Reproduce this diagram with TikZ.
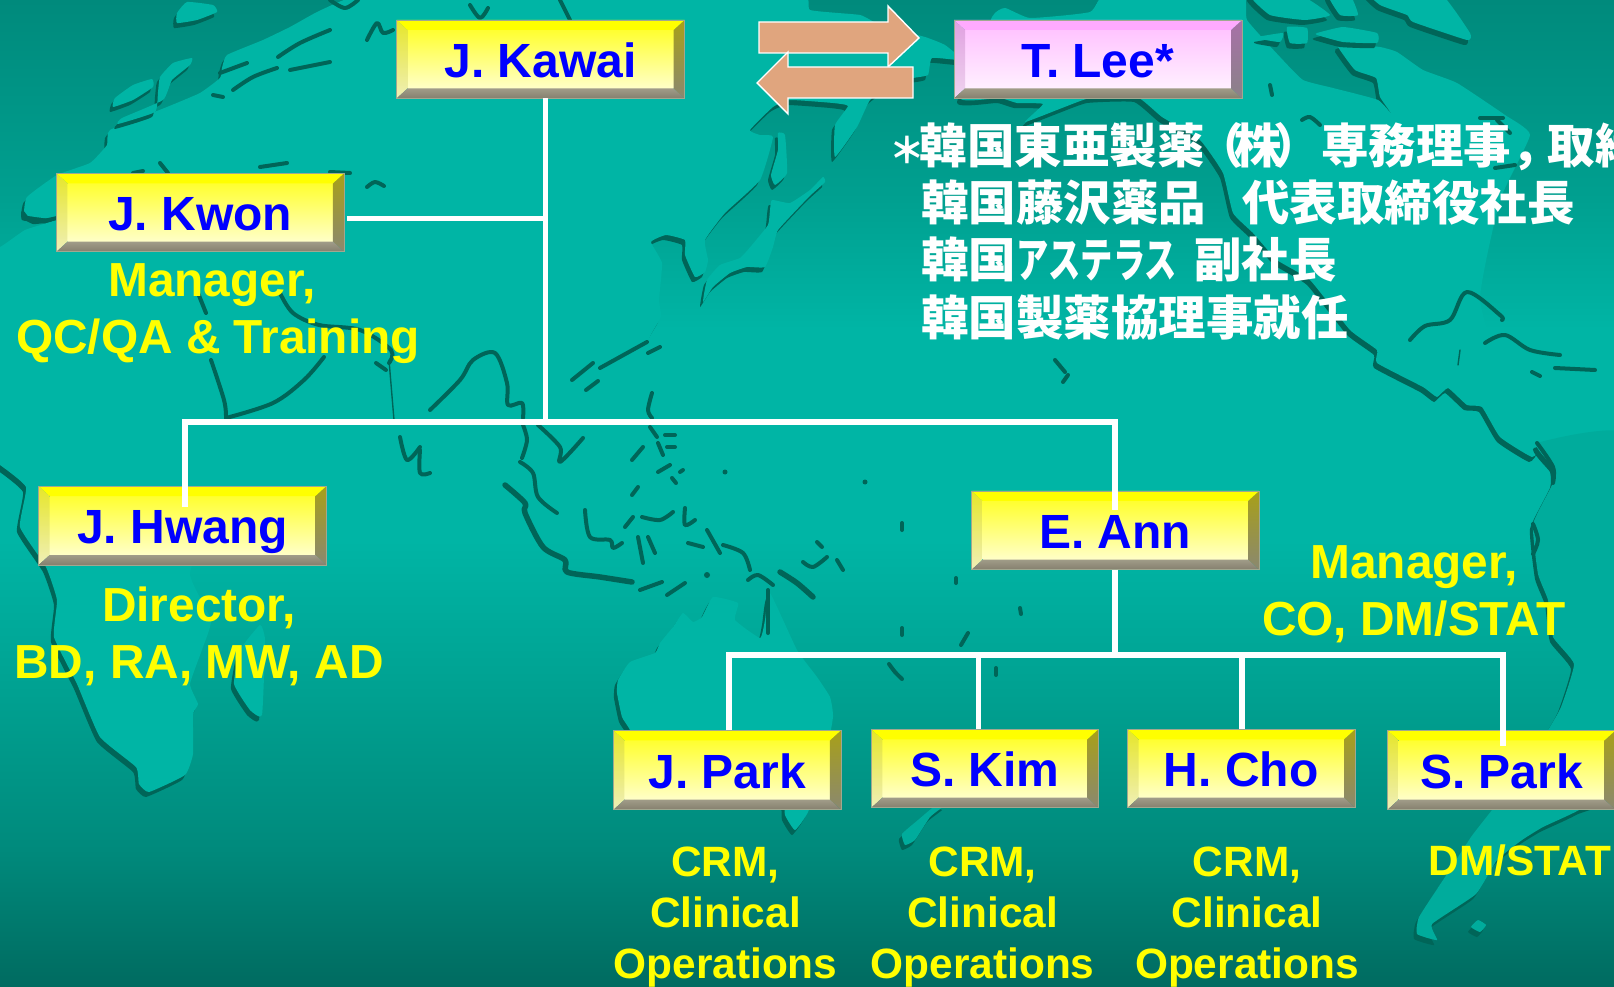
\documentclass[tikz,border=0pt]{standalone}
\usepackage{fontspec}
\usepackage{graphicx}
\setmainfont{Liberation Sans}
\newfontfamily\jpfont{Noto Sans CJK JP}
\definecolor{landcol}{HTML}{00B5A5}
\definecolor{landlow}{HTML}{00AC9C}
\definecolor{shadecol}{HTML}{006558}
\definecolor{oc0}{HTML}{008A7C}
\definecolor{oc1}{HTML}{00A090}
\definecolor{oc2}{HTML}{00B5A5}
\definecolor{oc3}{HTML}{00A090}
\definecolor{oc4}{HTML}{008A7C}
\definecolor{oc5}{HTML}{006B60}
\definecolor{arrowcol}{HTML}{E0A57E}
\definecolor{namecol}{HTML}{0000FF}
\definecolor{rolecol}{HTML}{FFFF00}
\definecolor{bevA}{HTML}{A09C88}
\definecolor{bevB}{HTML}{857F6E}
\definecolor{yTop}{HTML}{FFFF00}
\definecolor{yInA}{HTML}{FFFF30}
\definecolor{yInB}{HTML}{FFFFC8}
\definecolor{yLeA}{HTML}{E6E628}
\definecolor{yLeB}{HTML}{EFEFB8}
\definecolor{yRiA}{HTML}{A8A018}
\definecolor{yRiB}{HTML}{8A8870}
\definecolor{pTop}{HTML}{FFAAFF}
\definecolor{pInA}{HTML}{FFC4FF}
\definecolor{pInB}{HTML}{FFF0FF}
\definecolor{pLeA}{HTML}{E0A0E0}
\definecolor{pLeB}{HTML}{EFD4EF}
\definecolor{pRiA}{HTML}{A870A8}
\definecolor{pRiB}{HTML}{8A8288}
\definecolor{boxedge}{HTML}{A0A890}
\newcommand{\landmass}[2][landcol]{%
  \fill[shadecol,shift={(-3,5)}] plot[smooth cycle,tension=.25] coordinates {#2};
  \fill[#1] plot[smooth cycle,tension=.25] coordinates {#2};}
\newcommand{\cst}[1]{\draw[coast] plot[smooth,tension=.55] coordinates {#1};}
\newcommand{\dotisle}[2]{\fill[shadecol] #1 circle (#2);}
\tikzset{
  x=1pt,y=-1pt,
  coast/.style={draw=shadecol,line width=4pt,line cap=round,line join=round},
  wire/.style={draw=white,line width=5.6pt,line join=miter},
  blockarrow/.style={fill=arrowcol,draw=white,line width=1.4pt,line join=miter},
  bevelbox/.style n args={7}{rectangle,inner sep=0pt,outer sep=0pt,
    draw=boxedge,line width=.7pt,text height=36pt,text depth=0pt,
    text=namecol,font=\bfseries\fontsize{48}{57}\selectfont,
    path picture={
      \coordinate (oNW) at (path picture bounding box.north west);
      \coordinate (oNE) at (path picture bounding box.north east);
      \coordinate (oSW) at (path picture bounding box.south west);
      \coordinate (oSE) at (path picture bounding box.south east);
      \coordinate (iNW) at ([shift={(11,10)}]oNW);
      \coordinate (iNE) at ([shift={(-11,10)}]oNE);
      \coordinate (iSW) at ([shift={(11,-10)}]oSW);
      \coordinate (iSE) at ([shift={(-11,-10)}]oSE);
      \shade[top color=#2,bottom color=#3] (iNW) rectangle (iSE);
      \shade[top color=#4,bottom color=#5] (oNW)--(iNW)--(iSW)--(oSW)--cycle;
      \shade[top color=#6,bottom color=#7] (oNE)--(iNE)--(iSE)--(oSE)--cycle;
      \fill[#1] (oNW)--(oNE)--(iNE)--(iNW)--cycle;
      \shade[top color=bevA,bottom color=bevB] (oSW)--(oSE)--(iSE)--(iSW)--cycle;
    }},
  yellowbox/.style={bevelbox={yTop}{yInA}{yInB}{yLeA}{yLeB}{yRiA}{yRiB}},
  pinkbox/.style={bevelbox={pTop}{pInA}{pInB}{pLeA}{pLeB}{pRiA}{pRiB}},
  rolelabel/.style={text=rolecol,font=\bfseries\fontsize{47.8}{57}\selectfont,align=center,inner sep=0pt,anchor=base},
  rolesmall/.style={text=rolecol,font=\bfseries\fontsize{42.4}{51}\selectfont,align=center,inner sep=0pt,anchor=base},
  jpline/.style={text=white,font=\jpfont\bfseries\fontsize{47.5}{57}\selectfont,inner sep=0pt,anchor=base west},
}
\begin{document}
\begin{tikzpicture}
\useasboundingbox (0,0) rectangle (1614,987);
% ocean
\shade[top color=oc0,bottom color=oc1] (0,0) rectangle (1614,200);
\shade[top color=oc1,bottom color=oc2] (0,199.5) rectangle (1614,330);
\fill[oc2] (0,329.5) rectangle (1614,540);
\shade[top color=oc2,bottom color=oc3] (0,539.5) rectangle (1614,700);
\shade[top color=oc3,bottom color=oc4] (0,699.5) rectangle (1614,850);
\shade[top color=oc4,bottom color=oc5] (0,849.5) rectangle (1614,987);
% Eurasia (its lower edge merges with the ocean, so its shadow stops short of it)
\begin{scope}
\clip (-30,-30) rectangle (1700,395);
\fill[shadecol,shift={(-3,5)}] plot[smooth cycle,tension=.25] coordinates {(-20,247)(0,247)(25,230)(55,220)(25,215)(27,197)(57,175)(90,163)(107,145)(110,130)(167,107)(200,93)(220,78)(222,68)(227,55)(263,40)(290,27)(317,12)(350,-2)(420,-10)(790,-10)(810,10)(860,15)(880,25)(925,37)(945,45)(962,60)(932,58)(928,75)(913,78)(890,85)(870,100)(857,127)(835,157)(835,125)(848,106)(833,103)(790,100)(773,107)(750,130)(760,135)(773,137)(760,180)(725,213)(705,240)(708,260)(705,272)(695,277)(685,255)(685,240)(666,235)(651,242)(662,263)(659,300)(661,317)(648,342)(640,420)(520,420)(-20,420)};
\end{scope}
\fill[landcol] plot[smooth cycle,tension=.25] coordinates {(-20,247)(0,247)(25,230)(55,220)(25,215)(27,197)(57,175)(90,163)(107,145)(110,130)(167,107)(200,93)(220,78)(222,68)(227,55)(263,40)(290,27)(317,12)(350,-2)(420,-10)(790,-10)(810,10)(860,15)(880,25)(925,37)(945,45)(962,60)(932,58)(928,75)(913,78)(890,85)(870,100)(857,127)(835,157)(835,125)(848,106)(833,103)(790,100)(773,107)(750,130)(760,135)(773,137)(760,180)(725,213)(705,240)(708,260)(705,272)(695,277)(685,255)(685,240)(666,235)(651,242)(662,263)(659,300)(661,317)(648,342)(640,420)(520,420)(-20,420)};
% arctic islands
\landmass{(177,13)(187,2)(213,5)(217,12)(197,20)(177,23)}
\landmass{(115,98)(133,85)(152,79)(153,87)(133,100)(113,107)}
\landmass{(160,77)(173,63)(192,58)(190,65)(172,80)(163,100)(122,118)(118,124)(155,112)(158,92)}
% Japan, Sakhalin
\landmass{(778,133)(785,135)(787,173)(775,185)(771,175)(778,150)}
\landmass{(772,200)(790,203)(810,190)(823,177)(825,182)(813,193)(803,203)(778,230)(773,247)(765,267)(747,267)(730,273)(713,287)(703,302)(707,280)(720,265)(740,258)(752,245)(768,225)(770,210)}
% North America
\landmass{(992,17)(1005,8)(1030,18)(1090,12)(1110,-10)(1240,-10)(1247,20)(1280,57)(1303,80)(1333,88)(1378,100)(1393,116)(1380,97)(1376,78)(1355,70)(1338,47)(1342,43)(1380,47)(1397,52)(1423,70)(1457,83)(1505,115)(1530,135)(1500,200)(1480,300)(1510,400)(1540,445)(1532,457)(1500,437)(1482,407)(1467,405)(1448,388)(1437,397)(1423,387)(1377,363)(1377,350)(1350,330)(1310,280)(1277,260)(1253,233)(1233,213)(1223,173)(1200,140)(1162,117)(1137,97)(1090,98)(1062,108)(1025,122)(1043,104)(1017,103)(1000,98)(960,98)}
% Arctic Canada, Greenland
\landmass{(1367,-10)(1437,-10)(1470,33)(1467,40)(1413,22)(1407,15)(1380,5)}
\landmass{(1317,33)(1343,27)(1377,33)(1377,43)(1343,42)(1317,35)}
\landmass{(1257,37)(1283,33)(1280,42)(1260,39)}
\landmass{(1287,27)(1307,28)(1307,43)(1290,43)}
\landmass{(1250,-5)(1300,-5)(1330,15)(1305,20)(1270,15)}
\landmass{(1328,-5)(1350,-5)(1358,15)(1340,15)}
% Africa, Madagascar
\landmass{(-20,455)(0,465)(26,487)(20,527)(46,567)(57,600)(54,637)(77,684)(100,737)(136,767)(139,784)(149,792)(185,775)(193,754)(193,714)(198,704)(190,684)(203,647)(211,620)(190,574)(210,500)(120,440)}
\landmass{(234,684)(250,710)(262,715)(265,640)(260,625)(240,650)}
% Australia and nearby islands
\landmass{(770,593)(797,650)(817,677)(830,697)(833,717)(825,760)(808,812)(795,830)(785,815)(780,790)(700,780)(640,760)(630,730)(622,717)(617,693)(618,680)(630,662)(655,653)(660,643)(673,627)(683,613)(693,622)(702,617)(713,597)(738,603)(735,620)(760,638)(765,620)}
\landmass[landlow]{(936,805)(918,820)(902,834)(905,845)(915,840)(930,817)(945,805)}
% South America
\landmass[landlow]{(1537,443)(1553,467)(1553,483)(1533,524)(1538,574)(1548,600)(1553,637)(1574,664)(1561,707)(1548,730)(1515,780)(1492,810)(1471,837)(1445,877)(1419,917)(1417,934)(1437,940)(1432,924)(1476,894)(1497,860)(1522,840)(1543,827)(1579,810)(1640,770)(1640,440)}
\landmass[landlow]{(1471,927)(1478,920)(1486,925)(1480,932)}
% coast details (shadow lines)
\cst{(23,213)(33,222)(57,218)}
\cst{(220,73)(247,63)}
\cst{(233,90)(253,77)(277,68)}
\cst{(278,57)(300,43)(330,30)}
\cst{(290,70)(330,62)}
\cst{(213,95)(223,97)}
\cst{(367,40)(377,23)(383,33)(393,30)}
\cst{(330,0)(345,8)(358,0)}
\cst{(470,5)(480,18)(488,8)}
\cst{(560,0)(570,20)}
\cst{(133,173)(143,171)}
\cst{(160,163)(168,173)}
\cst{(260,167)(287,163)}
\cst{(330,172)(350,173)}
\cst{(367,187)(375,182)(384,186)}
\cst{(198,293)(206,313)}
\cst{(211,360)(224,400)(226,417)}
\cst{(226,418)(273,403)(304,380)(324,357)}
\cst{(280,293)(293,313)(319,325)(360,330)(391,350)(389,363)}
\cst{(376,363)(386,370)}
\draw[coast,line width=1.4pt] (389,360)--(394,420);
\cst{(400,437)(407,460)(420,447)}
\cst{(420,450)(420,473)(430,473)}
\cst{(430,410)(460,380)(473,360)(495,353)(507,383)(508,405)(522,403)(523,418)}
\cst{(523,425)(527,440)(522,458)}
\cst{(538,425)(560,447)(560,462)(583,438)}
\cst{(520,462)(533,473)(538,497)(557,513)}
\draw[shadecol,line width=5.5pt,line cap=round,line join=round] plot[smooth,tension=.5] coordinates {(505,485)(525,503)(525,513)(543,547)(565,560)(567,572)(600,577)(632,582)};
\cst{(585,510)(590,537)(610,540)(613,548)(622,543)}
\cst{(625,527)(633,517)}
\cst{(642,517)(660,520)(673,512)}
\cst{(638,537)(643,563)}
\cst{(648,537)(655,553)}
\cst{(685,508)(685,525)(695,520)}
\cst{(688,543)(703,547)}
\cst{(707,530)(720,553)}
\cst{(723,545)(743,553)(750,570)}
\cst{(748,580)(758,575)(773,585)}
\draw[shadecol,line width=5.5pt,line cap=round] plot[smooth,tension=.5] coordinates {(780,572)(797,583)(813,597)};
\cst{(803,562)(813,567)(827,557)}
\cst{(817,542)(822,547)}
\cst{(837,560)(843,570)}
\cst{(640,590)(662,582)}
\cst{(667,595)(685,583)}
\cst{(572,380)(593,363)}
\cst{(600,368)(647,342)}
\cst{(648,353)(660,347)}
\cst{(586,390)(598,381)}
\cst{(652,393)(648,410)(652,418)}
\cst{(650,427)(657,437)}
\cst{(658,443)(663,455)}
\cst{(665,435)(675,435)}
\cst{(667,447)(675,447)}
\cst{(658,472)(670,465)}
\cst{(672,478)(676,483)}
\cst{(680,472)(683,470)}
\cst{(632,460)(643,447)}
\cst{(632,495)(638,487)}
\dotisle{(725,472)}{2.5}
\dotisle{(865,482)}{2.5}
\dotisle{(707,575)}{3}
\cst{(768,590)(768,633)}
\cst{(902,523)(902,530)}
\cst{(956,578)(956,583)}
\cst{(1020,608)(1021,614)}
\cst{(902,628)(902,635)}
\cst{(961,645)(968,633)}
\cst{(889,664)(895,672)(902,679)}
\cst{(996,668)(996,675)}
\cst{(1055,360)(1065,372)}
\cst{(1068,375)(1063,382)}
\cst{(1270,85)(1272,95)}
\cst{(1302,120)(1310,117)(1320,125)}
\cst{(1480,118)(1503,118)}
\cst{(1497,120)(1510,133)}
\cst{(1515,165)(1495,168)}
\cst{(1410,340)(1425,326)(1450,320)(1467,292)(1500,315)(1502,320)}
\cst{(1485,343)(1505,335)(1530,350)(1560,355)}
\cst{(1555,368)(1595,370)}
\cst{(1532,372)(1540,376)}
\draw[coast,line width=1.4pt] (1460,350)--(1458,365);
\cst{(1537,443)(1553,467)(1553,483)}
\cst{(1533,524)(1538,540)(1533,554)}
% block arrows
\draw[blockarrow] (759,22)--(888,22)--(888,6)--(919,38)--(888,67)--(888,53)--(759,53)--cycle;
\draw[blockarrow] (757,83)--(788,52)--(788,67)--(913,67)--(913,98)--(788,98)--(788,114)--cycle;
% boxes
\node[yellowbox,minimum width=288,minimum height=78.5] (kawai) at (540.5,59.2) {J. Kawai};
\node[pinkbox,minimum width=288,minimum height=78.5] (lee) at (1098,59.2) {T. Lee*};
\node[yellowbox,minimum width=287.5,minimum height=78.4] (kwon) at (200.2,212.5) {J. Kwon};
\node[yellowbox,minimum width=287.8,minimum height=79] (hwang) at (182.5,525.5) {J. Hwang};
\node[yellowbox,minimum width=287.4,minimum height=78.7] (ann) at (1115.3,530.3) {E. Ann};
\node[yellowbox,minimum width=227.5,minimum height=79.4] (jpark) at (727.2,770) {J. Park};
\node[yellowbox,minimum width=227,minimum height=78.4] (kim) at (984.8,768.5) {S. Kim};
\node[yellowbox,minimum width=227.4,minimum height=78.4] (cho) at (1241.3,768.5) {H. Cho};
\node[yellowbox,minimum width=228,minimum height=79.4] (spark) at (1501.5,770) {S. Park};
% connector anchor points
\coordinate (trunkBus) at (545.5,422);
\coordinate (kwonTee) at (545.5,218.7);
\coordinate (busL) at (185,422);
\coordinate (busR) at (1115,422);
\coordinate (hwangIn) at (185,507);
\coordinate (annIn) at (1115,510);
\coordinate (teamBus) at (1115,655);
\coordinate (busA) at (729,655);
\coordinate (busB) at (978.4,655);
\coordinate (busC) at (1242,655);
\coordinate (busD) at (1503,655);
\coordinate (sparkIn) at (1503,746);
% connectors
\draw[wire] (kawai.south -| trunkBus) -- (trunkBus);
\draw[wire,shorten <=3pt] (kwon.east |- kwonTee) -- (kwonTee);
\draw[wire] (hwangIn) -- (busL) -- (busR) -- (annIn);
\draw[wire] (ann.south -| teamBus) -- (teamBus);
\draw[wire] (jpark.north -| busA) -- (busA) -- (busD) -- (sparkIn);
\draw[wire] (kim.north -| busB) -- (busB);
\draw[wire] (cho.north -| busC) -- (busC);
% role labels
\node[rolelabel] (rolekwon) at (218,353.3) {\makebox[0pt]{\hspace{-12pt}Manager,}\\QC/QA \& Training};
\node[rolelabel] (rolehwang) at (199,678.5) {Director,\\BD, RA, MW, AD};
\node[rolelabel] (roleann) at (1414,635.5) {Manager,\\CO, DM/STAT};
\node[rolesmall] (rolejpark) at (725.5,978) {CRM,\\Clinical\\Operations};
\node[rolesmall] (rolekim) at (982.6,978) {CRM,\\Clinical\\Operations};
\node[rolesmall] (rolecho) at (1247,978) {CRM,\\Clinical\\Operations};
\node[rolesmall] (rolespark) at (1520,875.5) {DM/STAT};
% Japanese note
\node[jpline] (note1) at (889,164) {\scalebox{.75}{＊}\kern-5pt 韓国東亜製薬\kern-8pt （\kern-10pt 株\kern-8pt ）専務理事，\kern-11pt 取締役};
\node[jpline] (note2) at (921,221) {韓国藤沢薬品\kern36pt 代表取締役社長};
\node[jpline] (note3) at (921,277.5) {韓国\scalebox{.68}[1]{アステラス}\kern17pt 副社長};
\node[jpline] (note4) at (921,335.5) {韓国製薬協理事就任};
\end{tikzpicture}
\end{document}
